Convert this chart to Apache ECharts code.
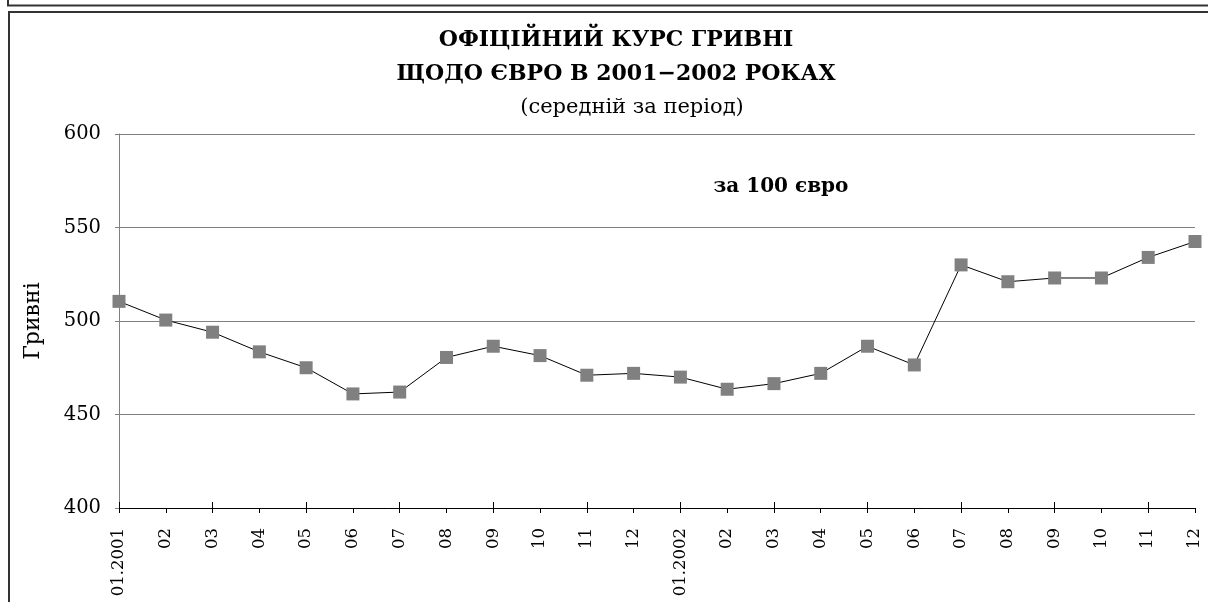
<!DOCTYPE html>
<html>
<head>
<meta charset="utf-8">
<script src="https://cdn.jsdelivr.net/npm/echarts@6/dist/echarts.min.js"></script>
<style>
  html, body { margin: 0; padding: 0; background: #fff; }
  #chart { width: 1208px; height: 602px; }
</style>
</head>
<body>
<div id="chart"></div>
<script>
// Monthly periods, 2001–2002
const months = ['01.2001', '02', '03', '04', '05', '06', '07', '08', '09', '10', '11', '12',
                '01.2002', '02', '03', '04', '05', '06', '07', '08', '09', '10', '11', '12'];

// Average official rate, UAH per 100 EUR
const rateUAH = [510.5, 500.5, 494.0, 483.5, 475.0, 461.0, 462.0, 480.5, 486.5, 481.5, 471.0, 472.0,
                 470.0, 463.5, 466.5, 472.0, 486.5, 476.5, 530.0, 521.0, 523.0, 523.0, 534.0, 542.5];

const yTicks = [400, 450, 500, 550, 600];

const titleLines = ['ОФІЦІЙНИЙ КУРС ГРИВНІ', 'ЩОДО ЄВРО В 2001−2002 РОКАХ'];
const subtitle = '(середній за період)';
const unitNote = 'за 100 євро';

const serif = '"DejaVu Serif", "Liberation Serif", serif';

function centeredText(text, x, y, size, weight) {
  return {
    type: 'text', x: x, y: y, z: 10,
    style: {
      text: text, fill: '#000',
      font: weight + ' ' + size + 'px ' + serif,
      textAlign: 'center', textVerticalAlign: 'middle'
    }
  };
}

const chart = echarts.init(document.getElementById('chart'), null, { renderer: 'canvas' });

chart.setOption({
  animation: false,
  backgroundColor: '#ffffff',
  graphic: [
    // upper frame edge
    { type: 'polyline', shape: { points: [[8, 0], [8, 5.5], [1210, 5.5]] },
      style: { stroke: '#333', lineWidth: 2, fill: null } },
    // frame around the chart
    { type: 'polyline', shape: { points: [[9, 610], [9, 12], [1210, 12]] },
      style: { stroke: '#333', lineWidth: 2, fill: null } },
    centeredText(titleLines[0], 616, 40, 22, 'bold'),
    centeredText(titleLines[1], 616, 74, 22, 'bold'),
    centeredText(subtitle, 632, 108, 21, 'normal'),
    centeredText(unitNote, 781, 187, 20, 'bold')
  ],
  grid: { left: 119, right: 13, top: 134, bottom: 94, containLabel: false },
  xAxis: [
    {
      type: 'category',
      data: months,
      boundaryGap: false,
      axisLine: { lineStyle: { color: '#000', width: 1 } },
      axisTick: { alignWithLabel: true, length: 5, lineStyle: { color: '#000' } },
      axisLabel: {
        rotate: 90, interval: 0, margin: 20,
        fontFamily: serif, fontSize: 16.5, color: '#000'
      },
      splitLine: { show: false }
    },
    {
      type: 'category',
      data: months,
      boundaryGap: false,
      position: 'bottom',
      axisLine: { show: false },
      axisTick: { inside: true, length: 6, lineStyle: { color: '#000' } },
      axisLabel: { show: false },
      splitLine: { show: false }
    }
  ],
  yAxis: {
    type: 'value',
    min: yTicks[0], max: yTicks[yTicks.length - 1], interval: 50,
    name: 'Гривні',
    nameLocation: 'middle',
    nameGap: 75,
    nameRotate: 90,
    nameTextStyle: { fontFamily: serif, fontSize: 22, color: '#000' },
    axisLine: { show: true, lineStyle: { color: '#808080', width: 1 } },
    axisTick: { show: true, length: 4, lineStyle: { color: '#808080' } },
    axisLabel: { fontFamily: serif, fontSize: 19.5, color: '#000', margin: 18 },
    splitLine: { show: true, lineStyle: { color: '#808080', width: 1 } }
  },
  series: [{
    type: 'line',
    data: rateUAH,
    xAxisIndex: 0,
    symbol: 'rect',
    symbolSize: 13,
    itemStyle: { color: '#808080' },
    lineStyle: { color: '#000', width: 1 },
    z: 3
  }]
});
</script>
</body>
</html>
